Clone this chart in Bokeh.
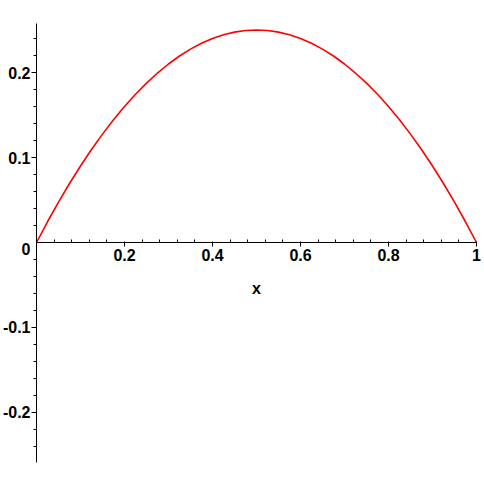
from bokeh.plotting import figure
from bokeh.models import LinearAxis, FixedTicker, ColumnDataSource
from bokeh.core.properties import value
from bokeh.embed import file_html
from bokeh.resources import INLINE

# Curve values (x from 0 to 1 in steps of 0.025)
curve_x = [0.000, 0.025, 0.050, 0.075, 0.100, 0.125, 0.150, 0.175, 0.200, 0.225,
           0.250, 0.275, 0.300, 0.325, 0.350, 0.375, 0.400, 0.425, 0.450, 0.475,
           0.500, 0.525, 0.550, 0.575, 0.600, 0.625, 0.650, 0.675, 0.700, 0.725,
           0.750, 0.775, 0.800, 0.825, 0.850, 0.875, 0.900, 0.925, 0.950, 0.975, 1.000]
curve_y = [0.0, 0.0244, 0.0475, 0.0694, 0.09, 0.1094, 0.1275, 0.1444, 0.16, 0.1744,
           0.1875, 0.1994, 0.21, 0.2194, 0.2275, 0.2344, 0.24, 0.2444, 0.2475, 0.2494,
           0.25, 0.2494, 0.2475, 0.2444, 0.24, 0.2344, 0.2275, 0.2194, 0.21, 0.1994,
           0.1875, 0.1744, 0.16, 0.1444, 0.1275, 0.1094, 0.09, 0.0694, 0.0475, 0.0244, 0.0]

x_major_ticks = [0.2, 0.4, 0.6, 0.8, 1.0]
x_tick_labels = ["0.2", "0.4", "0.6", "0.8", "1"]
x_minor_ticks = [0.04, 0.08, 0.12, 0.16, 0.24, 0.28, 0.32, 0.36, 0.44, 0.48, 0.52, 0.56,
                 0.64, 0.68, 0.72, 0.76, 0.84, 0.88, 0.92, 0.96]
y_major_ticks = [-0.2, -0.1, 0.1, 0.2]
y_tick_labels = ["-0.2", "-0.1", "0.1", "0.2"]
y_minor_ticks = [-0.24, -0.22, -0.18, -0.16, -0.14, -0.12, -0.08, -0.06, -0.04, -0.02,
                 0.02, 0.04, 0.06, 0.08, 0.12, 0.14, 0.16, 0.18, 0.22, 0.24]
x_bounds = (0.0, 1.0)
y_bounds = (-0.2585, 0.258)
origin_label = ["0"]
x_label = "x"

FONT = "Liberation Sans"

p = figure(width=484, height=484, x_range=(-0.081818, 1.018182), y_range=(-0.284706, 0.284706),
           output_backend="svg", toolbar_location=None, x_axis_type=None, y_axis_type=None,
           min_border=0, outline_line_color=None)
p.xgrid.visible = False
p.ygrid.visible = False

xaxis = LinearAxis(fixed_location=0, bounds=x_bounds,
                   ticker=FixedTicker(ticks=x_major_ticks, minor_ticks=x_minor_ticks),
                   major_label_overrides=dict(zip(x_major_ticks, x_tick_labels)),
                   axis_label=x_label)
xaxis.axis_line_color = "black"
xaxis.axis_line_width = 1
xaxis.major_tick_out = 4
xaxis.major_tick_in = 1
xaxis.minor_tick_out = 0
xaxis.minor_tick_in = 3
xaxis.major_tick_line_color = "black"
xaxis.minor_tick_line_color = "black"
xaxis.major_label_standoff = 2
xaxis.major_label_text_font = FONT
xaxis.major_label_text_font_style = "bold"
xaxis.major_label_text_font_size = "16px"
xaxis.major_label_text_color = "black"
xaxis.axis_label_text_font = FONT
xaxis.axis_label_text_font_style = "bold"
xaxis.axis_label_text_font_size = "16px"
xaxis.axis_label_text_color = "black"
xaxis.axis_label_standoff = 16
p.add_layout(xaxis, "below")

yaxis = LinearAxis(fixed_location=0, bounds=y_bounds,
                   ticker=FixedTicker(ticks=y_major_ticks, minor_ticks=y_minor_ticks),
                   major_label_overrides=dict(zip(y_major_ticks, y_tick_labels)))
yaxis.axis_line_color = "black"
yaxis.axis_line_width = 1
yaxis.major_tick_out = 5
yaxis.major_tick_in = 0
yaxis.minor_tick_out = 3
yaxis.minor_tick_in = 0
yaxis.major_tick_line_color = "black"
yaxis.minor_tick_line_color = "black"
yaxis.major_label_standoff = 1
yaxis.major_label_orientation = "horizontal"
yaxis.major_label_text_font = FONT
yaxis.major_label_text_font_style = "bold"
yaxis.major_label_text_font_size = "16px"
yaxis.major_label_text_color = "black"
p.add_layout(yaxis, "left")

src = ColumnDataSource(data=dict(x=curve_x, y=curve_y))
p.line("x", "y", source=src, line_color="#ff0000", line_width=1.6)

p.text(x=[-0.0136], y=[0.0], text=origin_label, text_align="right", text_baseline="top",
       text_font=value(FONT), text_font_style="bold", text_font_size="16px", text_color="black")

open("out.html", "w").write(file_html(p, INLINE))
